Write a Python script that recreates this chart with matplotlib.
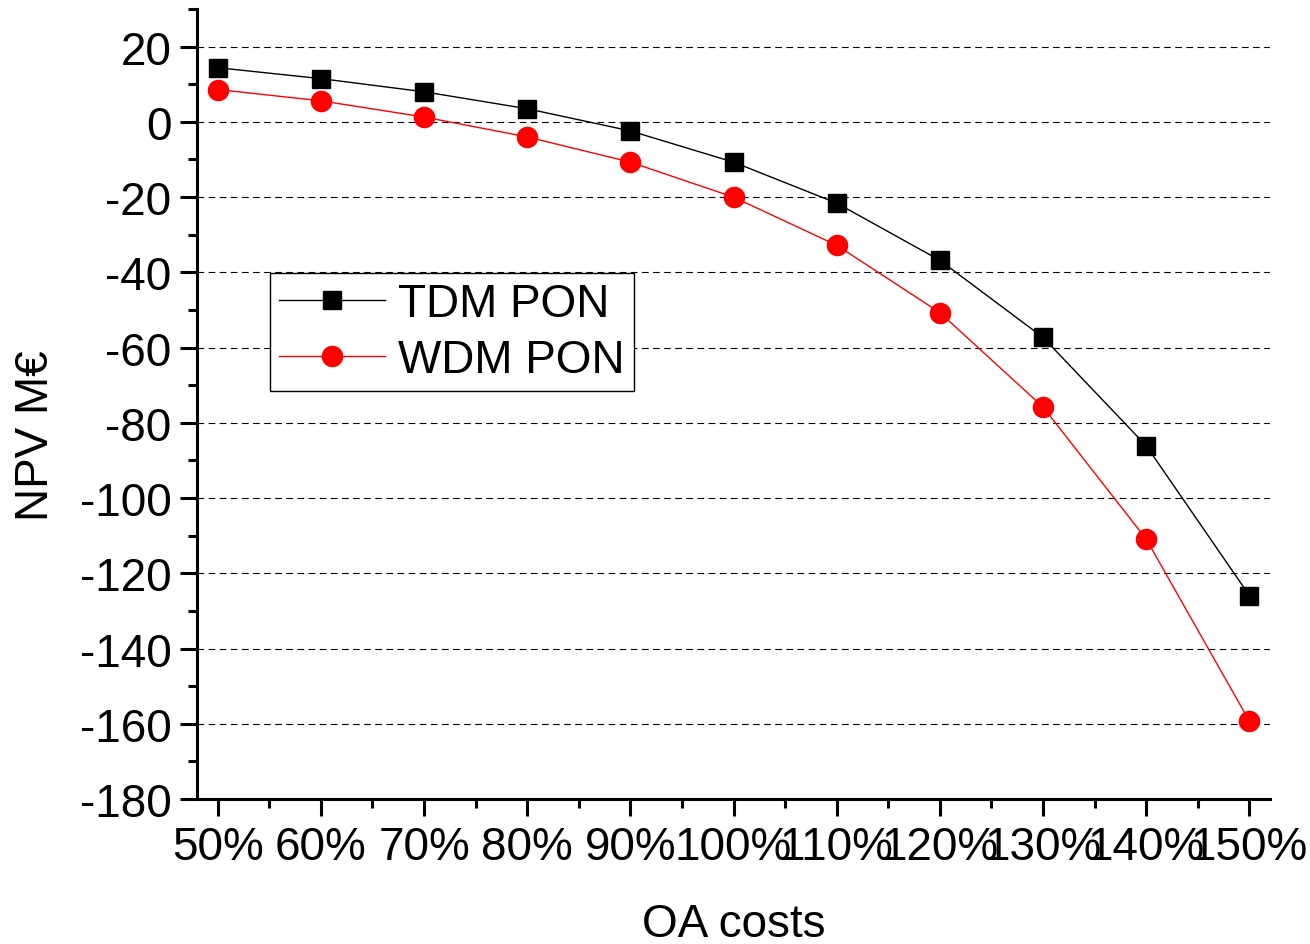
import matplotlib
matplotlib.use("Agg")
import matplotlib.pyplot as plt
from matplotlib.ticker import MultipleLocator

# Дані
oa_costs = [50, 60, 70, 80, 90, 100, 110, 120, 130, 140, 150]
tick_labels = [f"{c}%" for c in oa_costs]
tdm_pon = [14.4, 11.5, 8.0, 3.5, -2.4, -10.7, -21.6, -36.8, -57.3, -86.1, -125.9]
wdm_pon = [8.6, 5.6, 1.3, -4.0, -10.7, -20.0, -32.8, -50.7, -75.8, -110.9, -159.3]

plt.rcParams['font.family'] = ['Liberation Sans', 'DejaVu Sans']
plt.rcParams['axes.unicode_minus'] = False

fig = plt.figure(figsize=(13.1, 9.45), dpi=100)
ax = fig.add_axes([0.1504, 0.1534, 0.8191, 0.836])

ax.plot(oa_costs, tdm_pon, color='black', lw=1.0, marker='s', ms=13,
        label='TDM PON')
ax.plot(oa_costs, wdm_pon, color='red', lw=1.0, marker='o', ms=14.5,
        label='WDM PON')

ax.set_xlim(48, 152)
ax.set_ylim(-180, 30)
ax.set_xticks(oa_costs)
ax.set_xticklabels(tick_labels)
ax.xaxis.set_minor_locator(MultipleLocator(5))
ax.yaxis.set_major_locator(MultipleLocator(20))
ax.yaxis.set_minor_locator(MultipleLocator(10))

ax.grid(axis='y', which='major', ls=(0, (6, 4)), color='black', lw=0.8)
ax.set_axisbelow(True)

for side in ['top', 'right']:
    ax.spines[side].set_visible(False)
for side in ['left', 'bottom']:
    ax.spines[side].set_linewidth(2.2)

ax.tick_params(which='major', direction='out', length=12.5, width=2.2,
               labelsize=33, pad=6)
ax.tick_params(which='minor', direction='out', length=6.5, width=2.2)

ax.set_xlabel('OA costs', fontsize=33, labelpad=24)
ax.set_ylabel('NPV M€', fontsize=33)
ax.yaxis.set_label_coords(-0.130, 0.461)

leg = ax.legend(loc='upper left', bbox_to_anchor=(270 / 1310, 1 - 274 / 945),
                bbox_transform=fig.transFigure, fontsize=33, frameon=True,
                fancybox=False, edgecolor='black', framealpha=1,
                handlelength=2.3, borderpad=0.2, labelspacing=0.25,
                handletextpad=0.3, borderaxespad=0)
leg.get_frame().set_linewidth(1.0)

fig.savefig('out.png', dpi=100)
